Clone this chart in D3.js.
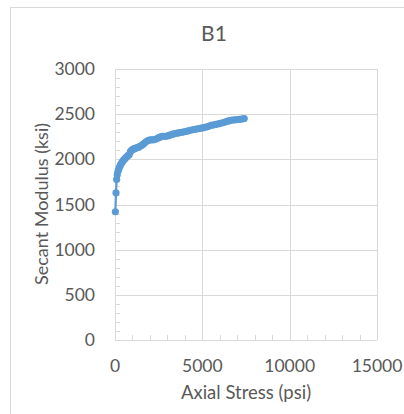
<!DOCTYPE html>
<html>
<head>
<meta charset="utf-8">
<script src="https://cdn.jsdelivr.net/npm/d3@7"></script>
<style>
  html, body { margin: 0; padding: 0; background: #fff; }
  svg { display: block; font-family: Lato, "Open Sans", sans-serif; }
</style>
</head>
<body>
<svg id="chart" width="404" height="414"></svg>
<script>
// Axial stress (psi) for each reading
const stress = [20, 57, 95, 130, 170, 210, 260, 310, 360, 420, 480, 540, 600, 670, 740, 810, 880, 950, 1020, 1100,
  1180, 1260, 1350, 1440, 1530, 1620, 1720, 1820, 1920, 2020, 2130, 2240, 2350, 2460, 2570, 2690, 2810, 2930, 3050, 3170,
  3300, 3430, 3560, 3690, 3820, 3950, 4090, 4230, 4370, 4510, 4650, 4790, 4930, 5070, 5210, 5350, 5500, 5650, 5800, 5950,
  6100, 6250, 6400, 6550, 6700, 6850, 7000, 7150, 7300, 7400];
// Secant modulus (ksi) for each reading
const modulus = [1420, 1630, 1778, 1830, 1865, 1890, 1915, 1935, 1955, 1972, 1988, 2002, 2015, 2028, 2040, 2050, 2085, 2100, 2110, 2118,
  2124, 2128, 2135, 2145, 2155, 2168, 2185, 2200, 2210, 2215, 2215, 2218, 2225, 2235, 2245, 2255, 2255, 2255, 2262, 2270,
  2278, 2285, 2290, 2295, 2300, 2305, 2310, 2318, 2325, 2330, 2335, 2340, 2345, 2350, 2358, 2365, 2375, 2382, 2388, 2395,
  2402, 2410, 2420, 2428, 2433, 2437, 2440, 2443, 2447, 2452];

const xTicks = [0, 5000, 10000, 15000];
const yTicks = [0, 500, 1000, 1500, 2000, 2500, 3000];
const title = "B1";
const xTitle = "Axial Stress (psi)";
const yTitle = "Secant Modulus (ksi)";

const data = stress.map((s, i) => ({ x: s, y: modulus[i] }));

const svg = d3.select("#chart");
const textColor = "#595959";
const gridColor = "#d9d9d9";
const seriesColor = "#5b9bd5";

const plot = { left: 115, right: 377, top: 69, bottom: 340 };

const x = d3.scaleLinear().domain([0, 15000]).range([plot.left, plot.right]);
const y = d3.scaleLinear().domain([0, 3000]).range([plot.bottom, plot.top]);

// chart frame
svg.append("rect")
  .attr("x", 10.5).attr("y", 7.5).attr("width", 420).attr("height", 420)
  .attr("fill", "none").attr("stroke", gridColor).attr("stroke-width", 1);

// title
svg.append("text")
  .attr("x", 214).attr("y", 41)
  .attr("text-anchor", "middle")
  .attr("fill", textColor).attr("font-size", 21)
  .text(title);

// gridlines
const g = svg.append("g");
g.selectAll("line.hgrid").data(yTicks.slice(1)).join("line")
  .attr("x1", plot.left).attr("x2", plot.right)
  .attr("y1", d => Math.round(y(d)) + 0.5).attr("y2", d => Math.round(y(d)) + 0.5)
  .attr("stroke", gridColor);
g.selectAll("line.vgrid").data(xTicks.slice(1)).join("line")
  .attr("y1", plot.top).attr("y2", plot.bottom)
  .attr("x1", d => Math.round(x(d)) + 0.5).attr("x2", d => Math.round(x(d)) + 0.5)
  .attr("stroke", gridColor);

// minor ticks (inside)
g.selectAll("line.ymin").data(d3.range(0, 3001, 100)).join("line")
  .attr("x1", plot.left).attr("x2", plot.left + 5)
  .attr("y1", d => Math.round(y(d)) + 0.5).attr("y2", d => Math.round(y(d)) + 0.5)
  .attr("stroke", gridColor);
g.selectAll("line.xmin").data(d3.range(0, 15001, 1000)).join("line")
  .attr("y1", plot.bottom).attr("y2", plot.bottom - 5)
  .attr("x1", d => Math.round(x(d)) + 0.5).attr("x2", d => Math.round(x(d)) + 0.5)
  .attr("stroke", gridColor);

// axis lines
g.append("line").attr("x1", plot.left + 0.5).attr("x2", plot.left + 0.5)
  .attr("y1", plot.top).attr("y2", plot.bottom).attr("stroke", gridColor);
g.append("line").attr("x1", plot.left).attr("x2", plot.right)
  .attr("y1", plot.bottom + 0.5).attr("y2", plot.bottom + 0.5).attr("stroke", gridColor);

// tick labels
svg.selectAll("text.ylab").data(yTicks).join("text")
  .attr("x", 95).attr("y", d => y(d))
  .attr("dy", "0.35em").attr("text-anchor", "end")
  .attr("fill", textColor).attr("font-size", 17.5)
  .text(d => d);
svg.selectAll("text.xlab").data(xTicks).join("text")
  .attr("x", d => x(d)).attr("y", 366)
  .attr("dy", "0.35em").attr("text-anchor", "middle")
  .attr("fill", textColor).attr("font-size", 17.5)
  .text(d => d);

// axis titles
svg.append("text")
  .attr("x", 246).attr("y", 399)
  .attr("text-anchor", "middle")
  .attr("fill", textColor).attr("font-size", 18.5)
  .text(xTitle);
svg.append("text")
  .attr("transform", "translate(48,204) rotate(-90)")
  .attr("text-anchor", "middle")
  .attr("fill", textColor).attr("font-size", 18)
  .text(yTitle);

// series
const line = d3.line().x(d => x(d.x)).y(d => y(d.y));
svg.append("path").datum(data)
  .attr("d", line)
  .attr("fill", "none").attr("stroke", seriesColor).attr("stroke-width", 2.2);
svg.selectAll("circle.pt").data(data).join("circle")
  .attr("cx", d => x(d.x)).attr("cy", d => y(d.y)).attr("r", 3.6)
  .attr("fill", seriesColor);
</script>
</body>
</html>
